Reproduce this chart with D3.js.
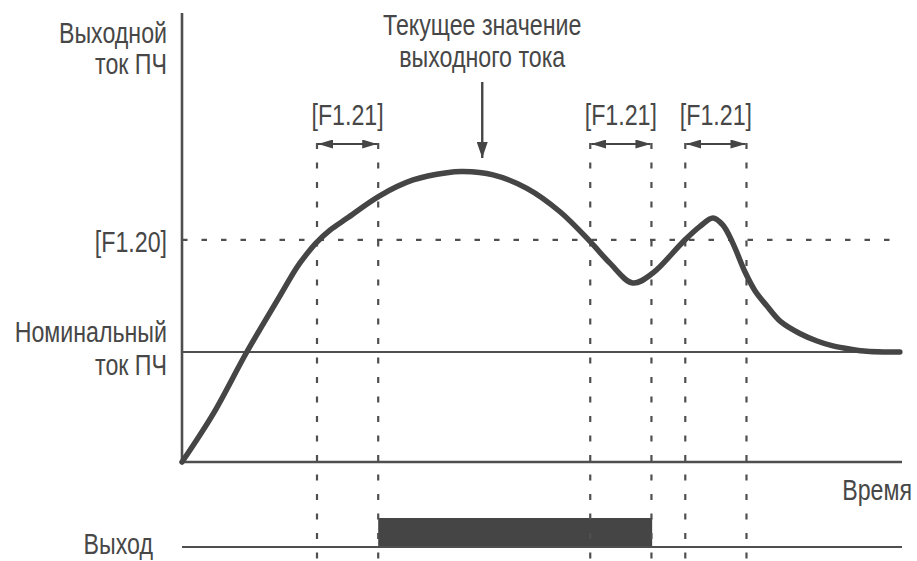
<!DOCTYPE html>
<html>
<head>
<meta charset="utf-8">
<script src="https://cdn.jsdelivr.net/npm/d3@7"></script>
<style>
  html, body { margin: 0; padding: 0; background: #fff; }
  svg { display: block; }
  text { font-family: "Liberation Sans Narrow", "Liberation Sans", Arial, sans-serif; fill: #474747; font-size: 29px; }
</style>
</head>
<body>
<svg id="chart" width="917" height="561"></svg>
<script>
// ---- Data ----
const timeValues = [0, 4.35, 9.0, 13.6, 15.9, 17.2, 18.6, 20.6, 22.9, 27.4, 32.1, 36.8, 39.0, 43.2, 47.9, 52.5, 56.7, 59.4, 62.6, 65.4, 69.6, 71.9, 73.75, 75.1, 76.5, 78.2, 79.6, 81.25, 83.2, 85.8, 88.2, 90.4, 93.1, 95.1, 97.6, 99.7];
const currentValues = [0, 44, 100, 151, 176.4, 188, 199, 211, 221.5, 241.8, 256.4, 263, 264, 261, 248.8, 227.5, 200.3, 181, 162.7, 171.8, 200.3, 214, 221.8, 215.5, 199, 172.7, 155.5, 141.8, 127.3, 116.8, 110, 105.5, 102.3, 100.6, 100, 100];
const nominalLevel = 100;
const thresholdLevel = 202;
const delayStarts = [18.75, 56.7, 69.9];
const delayWidth = 8.5;
const outputOnStart = [27.25];
const outputOnEnd = [65.3];
const delayLabel = "[F1.21]";
const thresholdLabel = "[F1.20]";
const yTitleLines = ["Выходной", "ток ПЧ"];
const nominalLines = ["Номинальный", "ток ПЧ"];
const noteLines = ["Текущее значение", "выходного тока"];
const noteTime = 41.7;
const xTitle = "Время";
const outputTitle = "Выход";

// ---- Scales ----
const x = d3.scaleLinear().domain([0, 100]).range([182, 902]);
const y = d3.scaleLinear().domain([0, 400]).range([462, 22]);
const yOut = d3.scaleLinear().domain([0, 1]).range([547, 518]);

const svg = d3.select("#chart");
const ink = "#454545";
const lineInk = "#4f4f4f";
const narrow = 0.8;

function addText(px, py, str, anchor) {
  return svg.append("text")
    .attr("transform", `translate(${px},${py}) scale(${narrow},1)`)
    .attr("text-anchor", anchor).text(str);
}

// arrow markers
const defs = svg.append("defs");
defs.append("marker").attr("id", "ah").attr("viewBox", "0 0 15 9")
  .attr("refX", 15).attr("refY", 4.5).attr("markerWidth", 15).attr("markerHeight", 9)
  .attr("markerUnits", "userSpaceOnUse").attr("orient", "auto-start-reverse")
  .append("path").attr("d", "M0,0 L15,4.5 L0,9 Z").attr("fill", ink);
defs.append("marker").attr("id", "ahDown").attr("viewBox", "0 0 16 11")
  .attr("refX", 16).attr("refY", 5.5).attr("markerWidth", 16).attr("markerHeight", 11)
  .attr("markerUnits", "userSpaceOnUse").attr("orient", "auto")
  .append("path").attr("d", "M0,0 L16,5.5 L0,11 Z").attr("fill", ink);

// Output bar
svg.selectAll("rect.out").data(outputOnStart).join("rect").attr("class", "out")
  .attr("x", (d, i) => x(d)).attr("y", yOut(1))
  .attr("width", (d, i) => x(outputOnEnd[i]) - x(d))
  .attr("height", yOut(0) - yOut(1)).attr("fill", ink);

// output baseline
svg.append("line").attr("x1", x(0)).attr("x2", x(100)).attr("y1", yOut(0)).attr("y2", yOut(0))
  .attr("stroke", lineInk).attr("stroke-width", 2.2);

// threshold dashed line
svg.append("line").attr("x1", x(0)).attr("x2", x(98.9)).attr("y1", y(thresholdLevel)).attr("y2", y(thresholdLevel))
  .attr("stroke", lineInk).attr("stroke-width", 2.2).attr("stroke-dasharray", "5.5,14");

// nominal line
svg.append("line").attr("x1", x(0)).attr("x2", x(100)).attr("y1", y(nominalLevel)).attr("y2", y(nominalLevel))
  .attr("stroke", lineInk).attr("stroke-width", 2.2);

// vertical dotted lines
const verticals = [];
delayStarts.forEach(s => { verticals.push(s); verticals.push(s + delayWidth); });
svg.selectAll("line.vd").data(verticals).join("line").attr("class", "vd")
  .attr("x1", d => x(d)).attr("x2", d => x(d)).attr("y1", 143).attr("y2", 561)
  .attr("stroke", lineInk).attr("stroke-width", 2.2).attr("stroke-dasharray", "6,13.5");

// double arrows
svg.selectAll("line.da").data(delayStarts).join("line").attr("class", "da")
  .attr("x1", d => x(d) + 1).attr("x2", d => x(d + delayWidth) - 1)
  .attr("y1", 144).attr("y2", 144)
  .attr("stroke", ink).attr("stroke-width", 2.2)
  .attr("marker-start", "url(#ah)").attr("marker-end", "url(#ah)");

// delay labels
delayStarts.forEach(d => addText(x(d + delayWidth / 2), 125, delayLabel, "middle"));

// axes
svg.append("line").attr("x1", x(0)).attr("x2", x(0)).attr("y1", 13).attr("y2", y(0))
  .attr("stroke", lineInk).attr("stroke-width", 2.6);
svg.append("line").attr("x1", x(0)).attr("x2", x(100)).attr("y1", y(0)).attr("y2", y(0))
  .attr("stroke", lineInk).attr("stroke-width", 2.6);

// current curve
const pts = timeValues.map((t, i) => [t, currentValues[i]]);
const line = d3.line().x(d => x(d[0])).y(d => y(d[1])).curve(d3.curveCatmullRom.alpha(0.5));
svg.append("path").attr("d", line(pts)).attr("fill", "none")
  .attr("stroke", ink).attr("stroke-width", 5.5).attr("stroke-linecap", "round").attr("stroke-linejoin", "round");

// note arrow
svg.append("line").attr("x1", x(noteTime)).attr("x2", x(noteTime)).attr("y1", 82).attr("y2", 158)
  .attr("stroke", ink).attr("stroke-width", 2.4).attr("marker-end", "url(#ahDown)");

// texts
yTitleLines.forEach((t, i) => addText(167, 43 + i * 31, t, "end"));
addText(167, y(thresholdLevel) + 12, thresholdLabel, "end");
nominalLines.forEach((t, i) => addText(167, y(nominalLevel) - 10 + i * 33, t, "end"));
noteLines.forEach((t, i) => addText(x(noteTime), 35 + i * 32, t, "middle"));
addText(912, 500, xTitle, "end");
addText(153, 554, outputTitle, "end");
</script>
</body>
</html>
